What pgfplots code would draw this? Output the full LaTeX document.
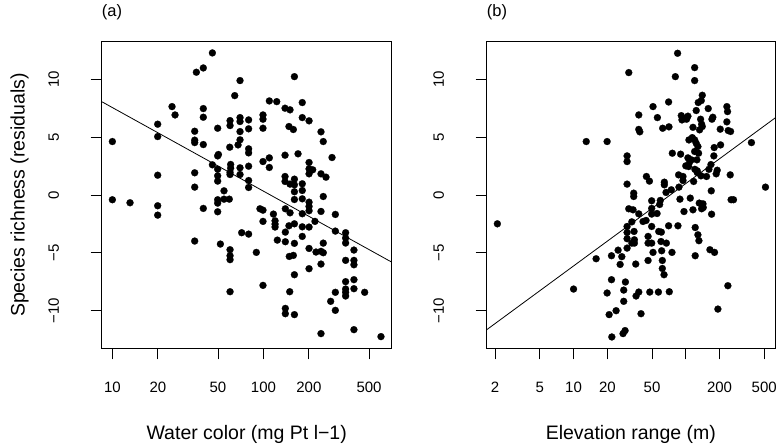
\documentclass[border=0pt]{standalone}
\usepackage{fontspec}
\setmainfont{Liberation Sans}
\usepackage{pgfplots}
\usepackage{pgfplotstable}
\pgfplotsset{compat=1.18}

% x values are log10 of the plotted variable (axes drawn on log scale)
\pgfplotstableread{
lx y
1.000 4.62
1.000 -0.41
1.117 -0.67
1.300 6.12
1.300 5.05
1.300 1.71
1.300 -0.93
1.300 -1.74
1.395 7.64
1.415 6.92
1.545 5.51
1.545 4.74
1.545 4.53
1.545 1.92
1.545 0.68
1.545 -3.98
1.556 10.61
1.602 10.98
1.602 7.47
1.602 6.72
1.602 4.36
1.602 -1.16
1.662 12.28
1.662 2.61
1.697 5.77
1.702 3.50
1.697 3.38
1.697 2.23
1.697 1.66
1.697 1.20
1.697 -0.41
1.697 -0.70
1.697 -1.45
1.715 -4.24
1.739 0.36
1.739 -0.36
1.774 -0.36
1.777 4.13
1.779 6.43
1.779 6.00
1.783 2.64
1.783 2.32
1.779 1.95
1.779 1.77
1.779 -4.73
1.779 -5.25
1.779 -5.59
1.779 -8.36
1.810 8.59
1.832 4.33
1.845 4.77
1.845 6.69
1.845 6.35
1.845 5.48
1.845 2.35
1.845 1.77
1.845 9.89
1.856 -3.26
1.902 6.49
1.902 5.72
1.902 3.99
1.902 3.64
1.902 2.49
1.902 1.25
1.902 0.65
1.902 -3.38
1.953 -4.96
1.997 6.92
1.997 6.55
1.997 5.77
1.997 2.89
1.977 -1.19
1.997 -1.31
1.997 -2.28
1.997 -7.81
2.039 8.13
2.088 8.07
2.039 3.21
2.039 2.38
2.066 -1.65
2.077 -2.23
2.077 -2.52
2.077 -2.77
2.092 -3.90
2.143 7.50
2.176 7.36
2.169 5.92
2.198 5.66
2.143 3.44
2.143 1.60
2.143 1.17
2.145 -1.19
2.145 -3.21
2.145 -4.04
2.145 -9.80
2.145 -10.26
2.176 0.94
2.176 -1.54
2.169 -2.66
2.171 -5.31
2.198 -5.22
2.174 -8.36
2.205 10.23
2.205 1.37
2.205 0.88
2.205 0.28
2.205 -0.39
2.205 -2.49
2.205 -4.18
2.205 -6.89
2.205 -10.34
2.229 3.56
2.257 7.99
2.257 6.69
2.257 0.97
2.257 0.39
2.257 -0.33
2.257 -1.62
2.257 -2.75
2.257 -3.58
2.302 6.41
2.302 2.81
2.302 2.26
2.302 1.83
2.326 2.18
2.302 -0.62
2.302 -0.99
2.302 -1.36
2.302 -2.77
2.302 -4.62
2.302 -6.37
2.341 -2.28
2.348 -4.93
2.381 5.46
2.381 1.83
2.381 -1.42
2.381 -4.87
2.381 -5.97
2.381 -11.98
2.396 4.62
2.396 -0.13
2.396 -4.16
2.396 -4.99
2.414 1.54
2.454 3.24
2.445 -9.19
2.476 -1.68
2.476 -3.12
2.476 -8.41
2.476 -9.97
2.544 -3.26
2.544 -3.72
2.544 -4.15
2.544 -5.65
2.544 -7.49
2.544 -8.13
2.544 -8.41
2.544 -8.73
2.599 -4.76
2.599 -5.65
2.599 -6.03
2.599 -7.32
2.599 -8.10
2.599 -11.64
2.670 -8.41
2.778 -12.24
}\tablecolor

\pgfplotstableread{
lx y
0.321 -2.49
1.000 -8.13
1.113 4.62
1.201 -5.51
1.299 4.62
1.299 -8.47
1.317 -10.34
1.338 -5.25
1.338 -7.32
1.341 -12.27
1.379 -10.00
1.397 -4.77
1.415 -6.00
1.430 -5.33
1.441 -11.98
1.459 -11.72
1.447 -8.22
1.447 -9.19
1.462 -7.52
1.477 3.38
1.477 2.89
1.477 0.94
1.477 -2.72
1.477 -3.24
1.477 -3.78
1.477 -4.59
1.492 10.58
1.492 -1.19
1.519 -2.32
1.530 -1.28
1.536 0.16
1.536 -0.13
1.539 -3.15
1.542 -3.87
1.542 -4.16
1.519 -4.16
1.554 -5.97
1.557 -8.73
1.581 6.92
1.581 5.67
1.590 5.46
1.581 -1.63
1.581 -8.39
1.601 -10.26
1.619 -2.29
1.646 -2.20
1.649 1.60
1.664 -3.58
1.664 -4.16
1.664 -5.66
1.676 1.20
1.679 -8.39
1.696 -0.50
1.696 -1.16
1.696 -1.65
1.696 -2.72
1.696 -4.16
1.708 7.64
1.708 -4.96
1.744 -1.60
1.747 6.69
1.756 -8.39
1.759 -3.15
1.767 -0.82
1.773 -0.47
1.782 -3.21
1.779 -4.02
1.785 -4.82
1.791 -5.66
1.791 -6.35
1.794 5.77
1.806 -6.89
1.809 1.11
1.809 0.88
1.824 0.22
1.827 -4.16
1.847 8.04
1.850 5.89
1.847 -2.66
1.853 -8.36
1.877 -4.96
1.880 3.61
1.871 0.45
1.907 10.23
1.927 12.25
1.930 -2.66
1.936 1.74
1.939 0.68
1.948 -0.36
1.954 3.53
1.960 6.86
1.966 6.49
1.975 1.60
1.975 1.25
1.984 -1.43
1.990 6.61
2.000 2.52
2.007 6.55
2.019 6.81
2.019 3.21
2.025 2.46
2.028 4.76
2.034 2.84
2.040 -0.27
2.049 3.04
2.058 4.96
2.064 5.85
2.064 -1.28
2.070 1.17
2.079 11.01
2.079 9.89
2.079 4.76
2.079 3.76
2.081 2.22
2.084 -2.81
2.084 -5.25
2.093 7.30
2.093 4.47
2.099 3.04
2.102 2.09
2.102 1.94
2.108 4.19
2.108 -3.44
2.111 7.99
2.114 3.61
2.117 -3.95
2.120 -0.70
2.123 5.63
2.132 6.55
2.135 1.66
2.138 8.16
2.141 6.12
2.141 -1.19
2.147 8.62
2.147 5.92
2.153 -0.76
2.156 -1.08
2.185 1.60
2.200 7.47
2.206 2.22
2.215 -4.73
2.224 2.63
2.227 0.36
2.230 -1.66
2.233 6.55
2.241 6.72
2.250 3.38
2.253 4.10
2.256 -4.96
2.271 1.83
2.280 2.14
2.286 -9.86
2.307 5.69
2.310 4.33
2.372 7.21
2.366 6.32
2.375 -7.84
2.378 5.57
2.396 1.74
2.399 5.49
2.404 -0.41
2.425 -0.41
2.585 4.53
2.710 0.68
2.366 7.64
}\tableelev

\pgfplotsset{
  rpanel/.style={
    scale only axis,
    height=306.6bp,
    ymin=-13.25, ymax=13.25,
    axis line style={line width=1bp},
    tick align=outside,
    xtick pos=bottom, ytick pos=left,
    major tick length=11bp,
    every tick/.style={black, line width=0.9bp},
    ytick={-10,-5,0,5,10},
    yticklabels={−10,−5,0,5,10},
    tick label style={font=\fontsize{15bp}{18bp}\selectfont},
    x tick label style={anchor=center, yshift=-28bp},
    y tick label style={xshift=-37bp, rotate=90, anchor=center},
    label style={font=\fontsize{19.5bp}{23bp}\selectfont},
    title style={font=\fontsize{16.5bp}{19bp}\selectfont, at={(axis description cs:0,1)}, anchor=west, inner sep=0pt, yshift=23.7bp},
    clip=true,
  },
  dots/.style={only marks, mark=*, mark size=3.5bp, mark options={fill=black, draw=black, line width=0.2bp}},
}

\begin{document}
\begin{tikzpicture}[x=1bp,y=1bp]
\begin{axis}[rpanel,
  at={(101.7bp,97.7bp)}, anchor=south west,
  width=290bp,
  xmin=0.9294, xmax=2.849,
  xtick={1,1.30103,1.69897,2,2.30103,2.69897},
  xticklabels={10,20,50,100,200,500},
  title={(a)},
  xlabel={Water color (mg Pt l−1)},
  ylabel={Species richness (residuals)},
  x label style={at={(axis description cs:0.5,-0.28)}, anchor=center},
  y label style={at={(axis description cs:-0.283,0.5)}, anchor=center},
]
\addplot[dots] table[x=lx, y=y] {\tablecolor};
\addplot[black, line width=0.8bp] coordinates {(0.90,8.28) (2.90,-6.17)};
\end{axis}

\begin{axis}[rpanel,
  at={(486.7bp,97.7bp)}, anchor=south west,
  width=288.3bp,
  xmin=0.226, xmax=2.795,
  xtick={0.30103,0.69897,1,1.30103,1.69897,2,2.30103,2.69897},
  xticklabels={2,5,10,20,50,{},200,500},
  title={(b)},
  xlabel={Elevation range (m)},
  x label style={at={(axis description cs:0.5,-0.28)}, anchor=center},
]
\addplot[dots] table[x=lx, y=y] {\tableelev};
\addplot[black, line width=0.8bp] coordinates {(0.20,-11.83) (2.90,7.40)};
\end{axis}
\pgfresetboundingbox
\path (0bp,0bp) rectangle (779bp,446bp);
\end{tikzpicture}
\end{document}
